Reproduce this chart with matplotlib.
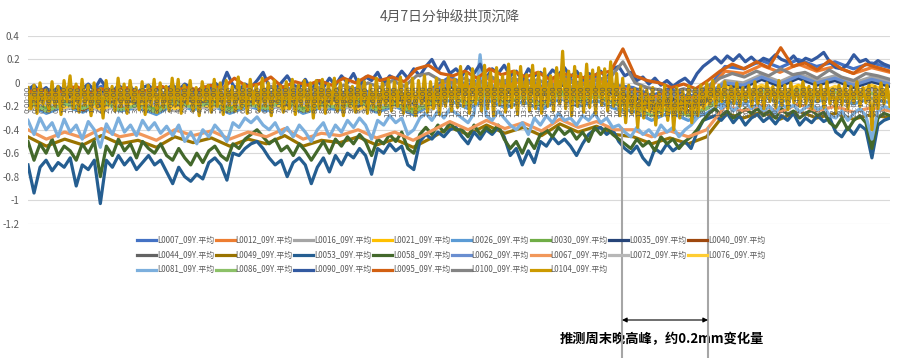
import numpy as np
import matplotlib
matplotlib.use("Agg")
import matplotlib.pyplot as plt
from matplotlib.lines import Line2D
from matplotlib.patches import FancyArrowPatch

plt.rcParams['font.family'] = ['Noto Sans CJK SC', 'DejaVu Sans']

# ---------------- data ----------------
title = "4月7日分钟级拱顶沉降"
annotation_text = "推测周末晚高峰，约0.2mm变化量"

series_names = ["L0007_09Y.平均", "L0012_09Y.平均", "L0016_09Y.平均", "L0021_09Y.平均",
                "L0026_09Y.平均", "L0030_09Y.平均", "L0035_09Y.平均", "L0040_09Y.平均",
                "L0044_09Y.平均", "L0049_09Y.平均", "L0053_09Y.平均", "L0058_09Y.平均",
                "L0062_09Y.平均", "L0067_09Y.平均", "L0072_09Y.平均", "L0076_09Y.平均",
                "L0081_09Y.平均", "L0086_09Y.平均", "L0090_09Y.平均", "L0095_09Y.平均",
                "L0100_09Y.平均", "L0104_09Y.平均"]
series_colors = ["#4472C4", "#ED7D31", "#A5A5A5", "#FFC000", "#5B9BD5", "#70AD47",
                 "#264478", "#9E480E", "#636363", "#997300", "#255E91", "#43682B",
                 "#698ED0", "#F1975A", "#B7B7B7", "#FFCD33", "#7CAFDD", "#8CC168",
                 "#335AA1", "#D26012", "#848484", "#CC9A00"]

y_ticks = [0.4, 0.2, 0, -0.2, -0.4, -0.6, -0.8, -1.0, -1.2]
y_tick_labels = ["0.4", "0.2", "0", "-0.2", "-0.4", "-0.6", "-0.8", "-1", "-1.2"]
x_tick_minutes = list(range(0, 1440, 12))
x_tick_labels = [f"{m // 60}:{m % 60:02d}:00" for m in x_tick_minutes]

L0007 = [-0.04, -0.12, -0.06, -0.11, -0.03, -0.10, -0.07, -0.13, -0.04, -0.09, -0.05, -0.12,
         -0.06, -0.10, -0.03, -0.12, -0.07, -0.09, -0.04, -0.11, -0.06, -0.13, -0.05, 0.05,
         -0.02, 0.06, -0.01, 0.04, -0.03, 0.07, 0.00, 0.05, -0.02, -0.04, -0.11, -0.05,
         -0.12, -0.06, 0.14, 0.12, 0.19, 0.13, 0.20, 0.14, 0.18, 0.12, 0.17, 0.13]
L0012 = [-0.06, -0.14, -0.08, -0.13, -0.05, -0.12, -0.09, -0.15, -0.06, -0.11, -0.07, -0.14,
         -0.08, -0.12, -0.05, -0.14, -0.09, -0.11, -0.06, -0.13, -0.08, -0.15, -0.07, 0.03,
         -0.04, 0.04, -0.03, 0.02, -0.05, 0.05, -0.02, 0.03, -0.04, -0.06, -0.13, -0.07,
         -0.14, -0.08, 0.10, 0.08, 0.15, 0.09, 0.16, 0.10, 0.14, 0.08, 0.13, 0.09]
L0016 = [-0.10, -0.18, -0.12, -0.17, -0.09, -0.16, -0.13, -0.19, -0.10, -0.15, -0.11, -0.18,
         -0.12, -0.16, -0.09, -0.18, -0.13, -0.15, -0.10, -0.17, -0.12, -0.19, -0.11, -0.03,
         -0.10, -0.02, -0.09, -0.04, -0.11, -0.01, -0.08, -0.03, -0.10, -0.10, -0.17, -0.11,
         -0.18, -0.12, 0.02, 0.00, 0.07, 0.01, 0.08, 0.02, 0.06, 0.00, 0.05, 0.01]
L0021 = [-0.12, -0.21, -0.14, -0.19, -0.11, -0.20, -0.15, -0.22, -0.12, -0.18, -0.13, -0.21,
         -0.14, -0.19, -0.11, -0.21, -0.15, -0.18, -0.12, -0.20, -0.14, -0.22, -0.13, -0.07,
         -0.14, -0.06, -0.13, -0.08, -0.15, -0.05, -0.12, -0.07, -0.14, -0.16, -0.24, -0.17,
         -0.24, -0.18, -0.08, -0.10, -0.03, -0.09, -0.02, -0.08, -0.04, -0.10, -0.05, -0.09]
L0026 = [-0.18, -0.26, -0.20, -0.25, -0.17, -0.24, -0.21, -0.27, -0.18, -0.23, -0.19, -0.26,
         -0.20, -0.24, -0.17, -0.26, -0.21, -0.23, -0.18, -0.25, -0.20, -0.27, -0.19, -0.15,
         -0.22, -0.14, -0.21, -0.16, -0.23, -0.13, -0.20, -0.15, -0.22, -0.24, -0.32, -0.25,
         -0.32, -0.26, -0.16, -0.18, -0.11, -0.17, -0.10, -0.16, -0.12, -0.18, -0.13, -0.17]
L0030 = [-0.14, -0.22, -0.16, -0.21, -0.13, -0.20, -0.17, -0.23, -0.14, -0.19, -0.15, -0.22,
         -0.16, -0.20, -0.13, -0.22, -0.17, -0.19, -0.14, -0.21, -0.16, -0.23, -0.15, -0.09,
         -0.16, -0.08, -0.15, -0.10, -0.17, -0.07, -0.14, -0.09, -0.16, -0.18, -0.26, -0.19,
         -0.26, -0.20, -0.10, -0.12, -0.05, -0.11, -0.04, -0.10, -0.06, -0.12, -0.07, -0.11]
L0035 = [-0.08, -0.16, -0.10, -0.15, -0.07, -0.14, -0.11, -0.17, -0.08, -0.13, -0.09, -0.16,
         -0.10, -0.14, -0.07, -0.16, -0.11, -0.13, -0.08, -0.15, -0.10, -0.17, -0.09, -0.03,
         -0.10, -0.02, -0.09, -0.04, -0.11, -0.01, -0.08, -0.03, -0.10, -0.12, -0.20, -0.13,
         -0.20, -0.14, -0.02, -0.04, 0.03, -0.03, 0.04, -0.02, 0.02, -0.04, 0.01, -0.03]
L0040 = [-0.16, -0.24, -0.18, -0.23, -0.15, -0.22, -0.19, -0.25, -0.16, -0.21, -0.17, -0.24,
         -0.18, -0.22, -0.15, -0.24, -0.19, -0.21, -0.16, -0.23, -0.18, -0.25, -0.17, -0.11,
         -0.18, -0.10, -0.17, -0.12, -0.19, -0.09, -0.16, -0.11, -0.18, -0.20, -0.28, -0.21,
         -0.28, -0.22, -0.12, -0.14, -0.07, -0.13, -0.06, -0.12, -0.08, -0.14, -0.09, -0.13]
L0044 = [-0.20, -0.12, -0.19, -0.13, -0.21, -0.14, -0.18, -0.11, -0.20, -0.15, -0.19, -0.12,
         -0.17, -0.13, -0.20, -0.12, -0.18, -0.14, -0.21, -0.13, -0.17, -0.11, -0.19, -0.08,
         -0.15, -0.09, -0.16, -0.08, -0.14, -0.10, -0.16, -0.09, -0.15, -0.17, -0.23, -0.18,
         -0.24, -0.17, -0.05, -0.11, -0.04, -0.10, -0.06, -0.12, -0.05, -0.11, -0.04, -0.10]
L0049 = [-0.46, -0.54, -0.48, -0.53, -0.45, -0.52, -0.49, -0.55, -0.46, -0.51, -0.47, -0.54,
         -0.48, -0.52, -0.45, -0.54, -0.49, -0.51, -0.46, -0.53, -0.48, -0.55, -0.47, -0.38,
         -0.44, -0.36, -0.43, -0.38, -0.45, -0.35, -0.42, -0.37, -0.44, -0.46, -0.52, -0.47,
         -0.52, -0.46, -0.26, -0.30, -0.25, -0.31, -0.24, -0.30, -0.26, -0.31, -0.27, -0.30]
L0053 = [-0.70, -0.94, -0.72, -0.66, -0.75, -0.68, -0.72, -0.64, -0.88, -0.70, -0.74, -0.66,
         -1.03, -0.66, -0.72, -0.62, -0.70, -0.64, -0.74, -0.68, -0.62, -0.70, -0.66, -0.76,
         -0.86, -0.72, -0.80, -0.84, -0.78, -0.82, -0.68, -0.64, -0.70, -0.83, -0.60, -0.62,
         -0.56, -0.52, -0.50, -0.56, -0.64, -0.70, -0.66, -0.80, -0.68, -0.64, -0.70, -0.86,
         -0.72, -0.64, -0.76, -0.62, -0.70, -0.60, -0.64, -0.56, -0.62, -0.78, -0.56, -0.60,
         -0.52, -0.58, -0.54, -0.70, -0.74, -0.50, -0.44, -0.48, -0.42, -0.46, -0.40, -0.38,
         -0.46, -0.52, -0.42, -0.48, -0.40, -0.44, -0.38, -0.46, -0.62, -0.56, -0.70, -0.58,
         -0.68, -0.50, -0.54, -0.46, -0.52, -0.48, -0.54, -0.62, -0.52, -0.44, -0.40, -0.38,
         -0.44, -0.40, -0.50, -0.56, -0.60, -0.54, -0.64, -0.70, -0.56, -0.60, -0.52, -0.58,
         -0.54, -0.50, -0.56, -0.42, -0.32, -0.30, -0.28, -0.32, -0.26, -0.34, -0.28, -0.36,
         -0.30, -0.27, -0.33, -0.29, -0.35, -0.28, -0.32, -0.26, -0.36, -0.30, -0.34, -0.28,
         -0.33, -0.30, -0.42, -0.46, -0.38, -0.44, -0.36, -0.40, -0.64, -0.36, -0.32, -0.30]
L0058 = [-0.50, -0.66, -0.52, -0.60, -0.48, -0.62, -0.54, -0.58, -0.66, -0.52, -0.60, -0.50,
         -0.80, -0.54, -0.62, -0.48, -0.58, -0.52, -0.64, -0.50, -0.56, -0.60, -0.52, -0.62,
         -0.66, -0.56, -0.64, -0.70, -0.60, -0.68, -0.58, -0.54, -0.62, -0.66, -0.52, -0.56,
         -0.48, -0.44, -0.40, -0.46, -0.52, -0.48, -0.58, -0.54, -0.62, -0.52, -0.58, -0.66,
         -0.58, -0.50, -0.60, -0.48, -0.54, -0.46, -0.52, -0.44, -0.50, -0.62, -0.48, -0.52,
         -0.44, -0.50, -0.42, -0.56, -0.60, -0.44, -0.38, -0.44, -0.36, -0.42, -0.34, -0.40,
         -0.40, -0.46, -0.36, -0.44, -0.38, -0.42, -0.36, -0.48, -0.56, -0.50, -0.60, -0.48,
         -0.56, -0.44, -0.40, -0.46, -0.38, -0.44, -0.40, -0.48, -0.42, -0.50, -0.38, -0.44,
         -0.38, -0.44, -0.48, -0.52, -0.56, -0.48, -0.54, -0.50, -0.58, -0.46, -0.52, -0.48,
         -0.56, -0.50, -0.46, -0.40, -0.32, -0.26, -0.22, -0.28, -0.24, -0.30, -0.26, -0.22,
         -0.26, -0.22, -0.28, -0.24, -0.30, -0.22, -0.27, -0.24, -0.30, -0.26, -0.23, -0.28,
         -0.25, -0.34, -0.38, -0.30, -0.40, -0.32, -0.28, -0.34, -0.56, -0.30, -0.26, -0.28]
L0062 = [-0.06, -0.14, -0.08, -0.13, -0.05, -0.12, -0.09, -0.15, -0.06, -0.11, -0.07, -0.14,
         -0.08, -0.12, -0.05, -0.14, -0.09, -0.11, -0.06, -0.13, -0.08, -0.15, -0.07, -0.01,
         -0.08, 0.00, -0.07, -0.02, -0.09, 0.01, -0.06, -0.01, -0.08, -0.08, -0.16, -0.09,
         -0.16, -0.10, 0.00, -0.02, 0.05, -0.01, 0.06, 0.00, 0.04, -0.02, 0.03, -0.01]
L0067 = [-0.40, -0.48, -0.42, -0.47, -0.39, -0.46, -0.43, -0.49, -0.40, -0.45, -0.41, -0.48,
         -0.42, -0.46, -0.39, -0.48, -0.43, -0.45, -0.40, -0.47, -0.42, -0.49, -0.41, -0.33,
         -0.40, -0.32, -0.39, -0.34, -0.41, -0.31, -0.38, -0.33, -0.40, -0.40, -0.46, -0.41,
         -0.46, -0.40, -0.20, -0.24, -0.19, -0.25, -0.18, -0.24, -0.20, -0.25, -0.21, -0.24]
L0072 = [-0.24, -0.16, -0.23, -0.17, -0.25, -0.18, -0.22, -0.15, -0.24, -0.19, -0.23, -0.16,
         -0.21, -0.17, -0.24, -0.16, -0.22, -0.18, -0.25, -0.17, -0.21, -0.15, -0.23, -0.10,
         -0.17, -0.11, -0.18, -0.10, -0.16, -0.12, -0.18, -0.11, -0.17, -0.21, -0.27, -0.22,
         -0.28, -0.21, -0.07, -0.13, -0.06, -0.12, -0.08, -0.14, -0.07, -0.13, -0.06, -0.12]
L0076 = [-0.22, -0.14, -0.21, -0.15, -0.23, -0.16, -0.20, -0.13, -0.22, -0.17, -0.21, -0.14,
         -0.19, -0.15, -0.22, -0.14, -0.20, -0.16, -0.23, -0.15, -0.19, -0.13, -0.21, -0.08,
         -0.15, -0.09, -0.16, -0.08, -0.14, -0.10, -0.16, -0.09, -0.15, -0.19, -0.25, -0.20,
         -0.26, -0.19, -0.03, -0.09, -0.02, -0.08, -0.04, -0.10, -0.03, -0.09, -0.02, -0.08]
L0081 = [-0.32, -0.44, -0.30, -0.40, -0.34, -0.46, -0.31, -0.42, -0.36, -0.48, -0.33, -0.40,
         -0.55, -0.35, -0.44, -0.30, -0.42, -0.36, -0.45, -0.32, -0.40, -0.34, -0.43, -0.37,
         -0.45, -0.36, -0.50, -0.42, -0.52, -0.40, -0.46, -0.36, -0.42, -0.50, -0.34, -0.38,
         -0.30, -0.34, -0.29, -0.36, -0.40, -0.34, -0.44, -0.38, -0.46, -0.36, -0.42, -0.50,
         -0.40, -0.34, -0.46, -0.36, -0.42, -0.32, -0.38, -0.30, -0.36, -0.48, -0.32, -0.36,
         -0.28, -0.34, -0.30, -0.44, -0.40, -0.30, -0.26, -0.32, -0.24, -0.30, -0.22, -0.26,
         -0.30, -0.34, -0.26, 0.24, -0.28, -0.32, -0.24, -0.30, -0.36, -0.40, -0.34, -0.44,
         -0.30, -0.36, -0.28, -0.34, -0.26, -0.32, -0.30, -0.36, -0.28, -0.32, -0.26, -0.34,
         -0.30, -0.38, -0.36, -0.42, -0.46, -0.38, -0.44, -0.40, -0.46, -0.36, -0.42, -0.38,
         -0.46, -0.40, -0.36, -0.30, -0.24, -0.20, -0.16, -0.22, -0.18, -0.24, -0.20, -0.17,
         -0.22, -0.18, -0.24, -0.20, -0.26, -0.18, -0.22, -0.19, -0.25, -0.21, -0.18, -0.23,
         -0.20, -0.28, -0.30, -0.24, -0.32, -0.26, -0.22, -0.28, -0.48, -0.24, -0.20, -0.22]
L0086 = [-0.16, -0.24, -0.18, -0.22, -0.15, -0.23, -0.19, -0.25, -0.16, -0.21, -0.17, -0.24,
         -0.18, -0.22, -0.15, -0.24, -0.19, -0.21, -0.16, -0.23, -0.18, -0.25, -0.17, -0.11,
         -0.18, -0.10, -0.17, -0.12, -0.19, -0.09, -0.16, -0.11, -0.18, -0.20, -0.28, -0.21,
         -0.28, -0.22, -0.12, -0.14, -0.07, -0.13, -0.06, -0.12, -0.08, -0.14, -0.09, -0.13]
L0090 = [-0.06, -0.02, -0.08, -0.04, -0.10, -0.03, -0.07, -0.02, -0.09, -0.05, -0.01, -0.06,
         0.03, -0.04, -0.08, -0.02, -0.06, -0.03, -0.10, -0.04, -0.02, -0.07, -0.03, -0.05,
         -0.02, -0.06, -0.01, -0.04, -0.08, -0.03, -0.05, 0.00, -0.04, 0.09, -0.02, -0.06,
         -0.01, -0.04, 0.02, 0.09, -0.03, -0.05, 0.00, 0.06, -0.02, -0.04, 0.03, -0.06,
         0.02, -0.04, 0.04, -0.02, 0.06, 0.00, 0.08, -0.03, 0.05, 0.02, 0.09, -0.01,
         0.06, 0.03, 0.10, 0.04, 0.12, 0.06, 0.14, 0.20, 0.10, 0.18, 0.08, 0.12,
         0.06, 0.14, 0.08, 0.16, 0.04, 0.12, 0.08, 0.15, 0.06, 0.10, 0.02, 0.12,
         0.06, 0.09, 0.04, 0.11, 0.07, 0.13, 0.05, 0.10, 0.03, 0.08, 0.06, 0.10,
         0.04, 0.12, 0.14, 0.06, 0.09, 0.02, 0.05, -0.01, 0.04, -0.02, 0.02, -0.03,
         0.01, 0.04, -0.01, 0.08, 0.14, 0.18, 0.22, 0.17, 0.23, 0.19, 0.24, 0.18,
         0.22, 0.17, 0.21, 0.19, 0.24, 0.20, 0.18, 0.23, 0.17, 0.21, 0.19, 0.22,
         0.26, 0.18, 0.13, 0.12, 0.16, 0.24, 0.18, 0.20, 0.15, 0.19, 0.16, 0.14]
L0095 = [-0.08, -0.05, -0.10, -0.06, -0.03, -0.09, -0.05, -0.07, -0.04, -0.08, -0.06, -0.03,
         -0.07, -0.04, -0.06, -0.02, -0.05, 0.04, -0.03, -0.01, 0.05, -0.04, 0.01, -0.02,
         0.02, -0.02, 0.04, 0.00, 0.06, 0.02, 0.05, 0.01, 0.12, 0.15, 0.08, 0.06,
         0.10, 0.04, 0.12, 0.07, 0.10, 0.05, 0.09, 0.03, 0.08, 0.06, 0.04, 0.08,
         0.10, 0.29, 0.06, 0.02, 0.00, -0.04, -0.01, -0.05, 0.02, 0.10, 0.16, 0.12,
         0.18, 0.13, 0.30, 0.14, 0.17, 0.11, 0.19, 0.12, 0.08, 0.16, 0.13, 0.10]
L0100 = [-0.12, -0.08, -0.14, -0.10, -0.06, -0.12, -0.09, -0.13, -0.07, -0.11, -0.08, -0.12,
         -0.10, -0.06, -0.12, -0.08, -0.04, -0.10, -0.06, -0.09, -0.03, -0.08, -0.05, -0.07,
         -0.04, -0.08, -0.02, -0.06, 0.00, -0.04, 0.02, -0.03, 0.06, 0.08, 0.02, 0.00,
         0.04, -0.02, 0.06, 0.01, 0.04, -0.01, 0.03, -0.03, 0.02, 0.00, -0.02, 0.03,
         0.05, 0.18, 0.00, -0.04, -0.06, -0.09, -0.05, -0.08, -0.03, 0.04, 0.08, 0.05,
         0.10, 0.06, 0.12, 0.07, 0.09, 0.04, 0.11, 0.05, 0.02, 0.08, 0.06, 0.03]
L0104 = [-0.04, -0.22, -0.02, -0.26, 0.00, -0.18, -0.06, -0.24, 0.01, -0.20, -0.03, -0.27,
         0.02, -0.16, 0.06, -0.22, -0.01, -0.25, 0.03, -0.19, -0.02, -0.28, 0.00, -0.21,
         -0.05, -0.30, 0.02, -0.18, -0.03, -0.24, 0.04, -0.20, -0.01, -0.26, 0.02, -0.17,
         -0.04, -0.23, 0.01, -0.27, -0.02, -0.19, 0.03, -0.25, 0.00, -0.21, -0.03, -0.24,
         0.04, -0.20, 0.03, -0.26, -0.02, -0.18, 0.02, -0.24, -0.04, -0.28, 0.01, -0.16,
         -0.02, -0.25, 0.03, -0.20, 0.00, -0.27, 0.02, -0.19, -0.03, -0.24, 0.05, -0.22,
         -0.01, -0.26, 0.03, -0.18, -0.02, -0.24, 0.04, -0.20, 0.00, -0.28, 0.02, -0.17,
         -0.03, -0.25, 0.01, -0.22, 0.03, -0.27, -0.02, -0.19, 0.02, -0.24, 0.00, -0.30,
         0.02, -0.22, 0.03, -0.26, -0.01, -0.18, 0.04, -0.24, 0.00, -0.28, 0.02, -0.20,
         -0.03, -0.25, 0.03, -0.18, 0.01, -0.26, -0.02, -0.21, 0.04, -0.27, 0.00, -0.19,
         0.03, -0.24, 0.01, -0.20, 0.05, -0.26, 0.00, -0.22, 0.04, -0.28, 0.02, -0.18,
         0.06, -0.25, 0.01, -0.22, 0.04, -0.27, 0.02, -0.20, 0.05, -0.24, 0.03, -0.21,
         0.14, -0.20, 0.08, -0.26, 0.12, -0.18, 0.05, -0.24, 0.15, -0.22, 0.09, -0.28,
         0.13, -0.19, 0.06, -0.25, 0.16, -0.21, 0.10, -0.27, 0.14, -0.18, 0.07, -0.24,
         0.15, -0.22, 0.09, -0.26, 0.12, -0.20, 0.06, -0.24, 0.13, -0.18, 0.27, -0.22,
         0.10, -0.28, 0.14, -0.20, 0.08, -0.25, 0.16, -0.21, 0.11, -0.26, 0.13, -0.19,
         0.12, -0.24, 0.18, -0.20, 0.08, -0.28, 0.04, -0.34, -0.02, -0.26, -0.05, -0.38,
         -0.03, -0.30, -0.06, -0.24, -0.04, -0.36, -0.08, -0.28, -0.02, -0.32, -0.06, -0.40,
         -0.04, -0.30, -0.07, -0.26, -0.03, -0.34, -0.05, -0.28, -0.02, -0.22, 0.00, -0.18,
         0.02, -0.20, -0.02, -0.16, 0.01, -0.22, -0.03, -0.18, 0.00, -0.20, -0.04, -0.16,
         -0.02, -0.20, 0.01, -0.18, -0.04, -0.22, 0.00, -0.16, -0.03, -0.21, 0.02, -0.19,
         -0.02, -0.23, 0.00, -0.17, -0.04, -0.20, 0.01, -0.18, -0.03, -0.22, 0.00, -0.16,
         -0.02, -0.21, 0.01, -0.18, -0.05, -0.24, -0.02, -0.19, 0.00, -0.22, -0.03, -0.17,
         0.01, -0.20, -0.04, -0.17, -0.02, -0.40, -0.03, -0.22, 0.00, -0.18, -0.02, -0.20]

series_values = [L0007, L0012, L0016, L0021, L0026, L0030, L0035, L0040, L0044, L0049,
                 L0053, L0058, L0062, L0067, L0072, L0076, L0081, L0086, L0090, L0095,
                 L0100, L0104]

# ---------------- figure ----------------
W, H = 900, 358
fig = plt.figure(figsize=(W / 100, H / 100), dpi=100)
ax = fig.add_axes([28 / W, 1 - 223.5 / H, 862 / W, 187.5 / H])

# horizontal axis crosses at 0 (set first: it resets the tick settings)
for s in ['left', 'right', 'top']:
    ax.spines[s].set_visible(False)
ax.spines['bottom'].set_position(('data', 0))
ax.spines['bottom'].set_color('#D9D9D9')
ax.spines['bottom'].set_linewidth(0.8)
ax.spines['bottom'].set_zorder(0.5)

handles = []
for name, color, vals in zip(series_names, series_colors, series_values):
    t = np.linspace(0, 1439, len(vals))
    ax.plot(t, vals, color=color, lw=2.3, solid_joinstyle='round', zorder=2)
    handles.append(Line2D([], [], color=color, lw=2.3))

ax.set_xlim(0, 1439)
ax.set_ylim(-1.2, 0.4)
ax.set_yticks(y_ticks)
ax.set_yticklabels(y_tick_labels, fontsize=7, color='#595959')
ax.tick_params(axis='y', length=0, pad=6)
ax.yaxis.grid(True, color='#D9D9D9', lw=0.8)
ax.set_axisbelow(True)

ax.set_xticks(x_tick_minutes)
ax.set_xticklabels(x_tick_labels, rotation=90, fontsize=5.0, color='#595959',
                   family='DejaVu Sans')
ax.tick_params(axis='x', length=0, pad=2)
ax.xaxis.set_zorder(3)   # category labels drawn over the series, as in the original
ax.patch.set_alpha(0)

# legend: row-major order in 8 columns
order = []
for c in range(8):
    for r in range(3):
        k = r * 8 + c
        if k < len(series_names):
            order.append(k)
fig.legend([handles[k] for k in order], [series_names[k] for k in order],
           ncol=8, loc='center', bbox_to_anchor=(451 / W, 1 - 255 / H),
           frameon=False, fontsize=5.7, handlelength=2.4, handletextpad=0.12,
           columnspacing=0.2, labelspacing=0.75, borderpad=0, labelcolor='#595959')

fig.text(0.5, 1 - 16 / H, title, ha='center', va='center', fontsize=10, color='#595959')

# annotation
for xp in (622, 708):
    fig.add_artist(Line2D([xp / W, xp / W], [1 - 128 / H, 0], transform=fig.transFigure,
                          color='#A6A6A6', lw=1.5, zorder=5))
fig.add_artist(FancyArrowPatch((622 / W, 1 - 320 / H), (708 / W, 1 - 320 / H),
                               transform=fig.transFigure, arrowstyle='<|-|>',
                               mutation_scale=7, color='black', lw=0.8,
                               shrinkA=0, shrinkB=0, zorder=6))
fig.text(662 / W, 1 - 339 / H, annotation_text, ha='center', va='center',
         fontsize=9.5, fontweight='bold', color='black')

fig.savefig('out.png', dpi=100)
